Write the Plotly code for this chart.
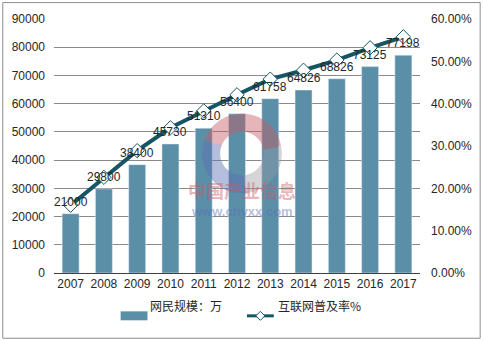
import math
import plotly.graph_objects as go

years = ["2007", "2008", "2009", "2010", "2011", "2012", "2013", "2014", "2015", "2016", "2017"]
users = [21000, 29800, 38400, 45730, 51310, 56400, 61758, 64826, 68826, 73125, 77198]
rate = [0.160, 0.226, 0.289, 0.343, 0.383, 0.421, 0.458, 0.479, 0.503, 0.532, 0.558]
bar_name = "网民规模：万"
line_name = "互联网普及率%"

BAR_C = "#5B8FA8"
LINE_C = "#155566"
TXT = "#262626"
FONT = "Liberation Sans, Arial, Noto Sans CJK SC, sans-serif"

W, H = 484, 341
L, R, T, B = 53, 63, 18, 68
PW, PH = W - L - R, H - T - B


def px(x):
    return (x - L) / PW


def py(y):
    return (H - B - y) / PH


fig = go.Figure()
fig.add_trace(go.Bar(x=years, y=users, name=bar_name, marker_color=BAR_C,
                     width=0.51, showlegend=False, hoverinfo="x+y"))
fig.add_trace(go.Scatter(x=years, y=rate, name=line_name, yaxis="y2",
                         mode="lines+markers", line=dict(color=LINE_C, width=4),
                         marker=dict(symbol="diamond", size=11, color="white",
                                     line=dict(color=LINE_C, width=1)),
                         showlegend=False))

annotations = []
for i, v in enumerate(users):
    annotations.append(dict(x=i, y=v, xref="x", yref="y", text=str(v), showarrow=False,
                            yshift=12, font=dict(size=12, color=TXT, family=FONT)))

shapes = []
# watermark logo
cx, cy, rr = 242, 153, 31


def arc(a0, a1, color):
    pts = []
    n = 30
    for i in range(n + 1):
        a = math.radians(a0 + (a1 - a0) * i / n)
        pts.append((px(cx + rr * math.cos(a)), py(cy - rr * math.sin(a))))
    d = "M " + " L ".join(f"{a:.5f},{b:.5f}" for a, b in pts)
    return dict(type="path", xref="paper", yref="paper", path=d,
                line=dict(color=color, width=18), layer="above")


shapes.append(arc(10, 160, "rgba(200,90,100,0.45)"))
shapes.append(arc(160, 275, "rgba(90,110,180,0.45)"))
shapes.append(arc(275, 370, "rgba(150,150,160,0.40)"))

annotations.append(dict(x=px(242), y=py(205), xref="paper", yref="paper", text="<b>中国产业信息</b>",
                        showarrow=False, font=dict(size=18, color="rgba(205,90,100,0.45)",
                                                   family="Noto Sans CJK SC")))
annotations.append(dict(x=px(242), y=py(221), xref="paper", yref="paper", text="<b>www.chyxx.com</b>",
                        showarrow=False, font=dict(size=13, color="rgba(90,110,180,0.45)",
                                                   family=FONT)))

# outer border
shapes.append(dict(type="rect", xref="paper", yref="paper", x0=px(1.5), x1=px(481.5),
                   y0=py(338.5), y1=py(1.5), line=dict(color="#8c8c8c", width=1)))

# custom legend
ly = 316
shapes.append(dict(type="rect", xref="paper", yref="paper", x0=px(120), x1=px(147),
                   y0=py(ly + 4.5), y1=py(ly - 4.5), line=dict(width=0), fillcolor=BAR_C))
annotations.append(dict(x=px(148), y=py(ly), xref="paper", yref="paper", text=bar_name,
                        xanchor="left", showarrow=False,
                        font=dict(size=12, color=TXT, family="Noto Sans CJK SC")))
shapes.append(dict(type="line", xref="paper", yref="paper", x0=px(247), x1=px(274),
                   y0=py(ly), y1=py(ly), line=dict(color=LINE_C, width=3)))
dx, dy = 4.5, 4.5
dm = (f"M {px(260.5-dx):.5f},{py(ly):.5f} L {px(260.5):.5f},{py(ly-dy):.5f} "
      f"L {px(260.5+dx):.5f},{py(ly):.5f} L {px(260.5):.5f},{py(ly+dy):.5f} Z")
shapes.append(dict(type="path", xref="paper", yref="paper", path=dm,
                   fillcolor="white", line=dict(color=LINE_C, width=1)))
annotations.append(dict(x=px(276), y=py(ly), xref="paper", yref="paper", text=line_name,
                        xanchor="left", showarrow=False,
                        font=dict(size=12, color=TXT, family="Noto Sans CJK SC")))

fig.update_layout(
    width=W, height=H,
    margin=dict(l=L, r=R, t=T, b=B, pad=0),
    paper_bgcolor="white", plot_bgcolor="white",
    font=dict(family=FONT, size=12, color=TXT),
    xaxis=dict(type="category", range=[-0.5, len(years) - 0.5], showline=True,
               linecolor="#404040", linewidth=1,
               ticks="", showgrid=False, tickfont=dict(size=12, color=TXT)),
    yaxis=dict(range=[0, 90000], dtick=10000, tickformat="d", showgrid=True, gridcolor="#8a8a8a",
               gridwidth=1, zeroline=False, showline=False, ticks="",
               ticklabelstandoff=8, tickfont=dict(size=12, color=TXT)),
    yaxis2=dict(range=[0, 0.6], dtick=0.1, tickformat=".2%", overlaying="y", side="right",
                showgrid=False, zeroline=False, showline=False, ticks="",
                ticklabelstandoff=10, tickfont=dict(size=12, color=TXT)),
    shapes=shapes,
    annotations=annotations,
    showlegend=False,
)

fig.write_html("out.html")
